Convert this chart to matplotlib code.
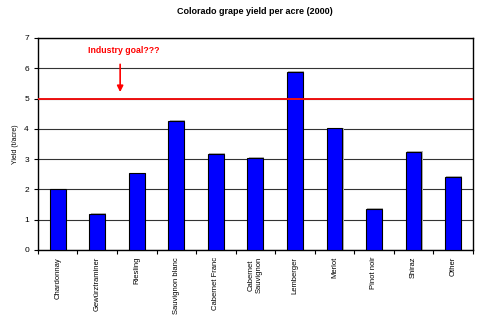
import numpy as np
import matplotlib.pyplot as plt

plt.rcParams['font.family'] = ['Liberation Sans', 'DejaVu Sans']

varieties = ['Chardonnay', 'Gewürztraminer', 'Riesling', 'Sauvignon blanc',
             'Cabernet Franc', 'Cabernet\nSauvignon', 'Lemberger', 'Merlot',
             'Pinot noir', 'Shiraz', 'Other']
yields = [2.0, 1.2, 2.53, 4.26, 3.17, 3.04, 5.88, 4.02, 1.35, 3.24, 2.41]
goal = 5

fig = plt.figure(figsize=(4.8, 3.16), dpi=100)
ax = fig.add_axes([0.079, 0.209, 0.906, 0.671])

x = np.arange(len(varieties))
# faint shadow behind bars
ax.bar(x + 0.03, np.array(yields) + 0.02, width=0.4, color='#b0b0b0', zorder=2)
ax.bar(x, yields, width=0.4, color='#0000ff', edgecolor='black', linewidth=0.8, zorder=3)

ax.axhline(goal, color='#ee1111', linewidth=1.4, zorder=4)
ax.annotate('', xy=(1.58, 5.12), xytext=(1.58, 6.22),
            arrowprops=dict(arrowstyle='-|>', color='red', lw=1.2, mutation_scale=9))
ax.text(0.76, 6.57, 'Industry goal???', color='red', fontsize=6.3, fontweight='bold',
        va='center', ha='left')

ax.set_ylim(0, 7)
ax.set_xlim(-0.5, len(varieties) - 0.5)
ax.set_yticks(range(8))
ax.yaxis.grid(True, color='#333333', linewidth=0.8)
ax.set_axisbelow(True)

ax.set_xticks(np.arange(-0.5, len(varieties), 1))
ax.set_xticklabels([])
ax.set_xticks(x, minor=True)
ax.set_xticklabels(varieties, minor=True, rotation=90, fontsize=5.5, va='top', ha='center')
ax.tick_params(axis='x', which='minor', length=0, pad=5)
ax.tick_params(axis='x', which='major', length=3, width=0.8)
ax.tick_params(axis='y', labelsize=6, length=3, width=0.8)

for s in ax.spines.values():
    s.set_linewidth(1.0)

ax.set_ylabel('Yield (t/acre)', fontsize=5)
ax.set_title('Colorado grape yield per acre (2000)', fontsize=6.5, fontweight='bold', pad=17)

fig.savefig('out.png', dpi=100)
